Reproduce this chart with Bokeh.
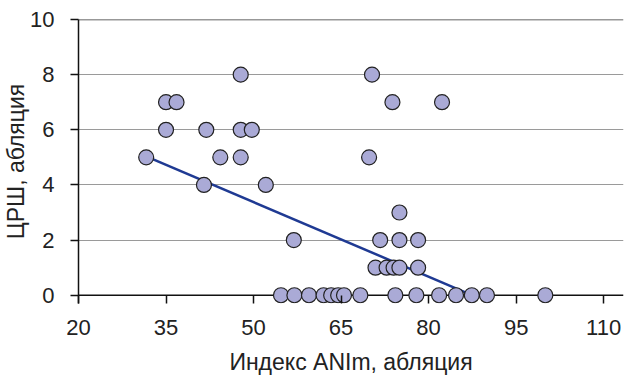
from bokeh.plotting import figure
from bokeh.models import Range1d, FixedTicker, Span, ColumnDataSource
from bokeh.embed import file_html
from bokeh.resources import INLINE

# Data
anim = [31.6, 44.3, 47.8, 69.8,
        35.0, 36.8, 73.8, 82.3,
        35.0, 41.9, 47.8, 49.7,
        41.5, 52.1,
        47.8, 70.3,
        56.9, 71.7, 75.0, 78.2,
        75.0,
        70.9, 72.8, 74.0, 75.0, 78.2,
        54.7, 57.0, 59.5, 62.0, 63.3, 64.5, 65.5, 68.3, 74.3, 77.9, 81.8, 84.7, 87.4, 90.0, 100.0]
crsh = [5, 5, 5, 5,
        7, 7, 7, 7,
        6, 6, 6, 6,
        4, 4,
        8, 8,
        2, 2, 2, 2,
        3,
        1, 1, 1, 1, 1,
        0, 0, 0, 0, 0, 0, 0, 0, 0, 0, 0, 0, 0, 0, 0]
trend_x = [32.0, 86.9]
trend_y = [5.0, 0.05]
x_ticks = [20, 35, 50, 65, 80, 95, 110]
y_ticks = [0, 2, 4, 6, 8, 10]

FONT = "Liberation Sans"

p = figure(width=625, height=377, output_backend="svg", toolbar_location=None,
           x_range=Range1d(20, 113.4), y_range=Range1d(-0.3, 10),
           min_border_left=78, min_border_right=2, min_border_top=19, min_border_bottom=74)
p.outline_line_color = None
p.background_fill_color = "white"
p.border_fill_color = "white"

p.xgrid.visible = False
p.ygrid.ticker = FixedTicker(ticks=[2, 4, 6, 8])
p.ygrid.grid_line_color = "#9a9a9a"
p.ygrid.grid_line_width = 1.2

top = Span(location=10, dimension="width", line_color="#333333", line_width=1.5, level="underlay")
p.add_layout(top)
xline = Span(location=0, dimension="width", line_color="#111111", line_width=1.5, level="underlay")
p.add_layout(xline)

p.line(trend_x, trend_y, line_color="#1f3a93", line_width=2.5)
src = ColumnDataSource(dict(x=anim, y=crsh))
p.scatter("x", "y", source=src, size=15, fill_color="#aaaad6", line_color="#222222", line_width=1.2)

for ax in (p.xaxis[0], p.yaxis[0]):
    ax.axis_line_color = "#111111"
    ax.axis_line_width = 1.5
    ax.major_tick_line_color = "#111111"
    ax.major_tick_line_width = 1.5
    ax.minor_tick_line_color = None
    ax.major_label_text_font = FONT
    ax.major_label_text_font_size = "22px"
    ax.major_label_text_color = "#222222"
    ax.axis_label_text_font = FONT
    ax.axis_label_text_font_size = "23px"
    ax.axis_label_text_font_style = "normal"
    ax.axis_label_text_color = "#222222"

# x axis: the line is the span at y=0; ticks rise from the frame bottom to y=0
p.xaxis.axis_line_color = None
p.xaxis.major_tick_in = 8
p.xaxis.major_tick_out = 0
p.yaxis.major_tick_in = 0
p.yaxis.major_tick_out = 8

p.xaxis.ticker = FixedTicker(ticks=x_ticks)
p.yaxis.ticker = FixedTicker(ticks=y_ticks)
p.xaxis.axis_label = "Индекс ANIm, абляция"
p.yaxis.axis_label = "ЦРШ, абляция"
p.xaxis.major_label_standoff = 16
p.yaxis.major_label_standoff = 16
p.xaxis.axis_label_standoff = 11
p.yaxis.axis_label_standoff = -2

open("out.html", "w").write(file_html(p, INLINE))
